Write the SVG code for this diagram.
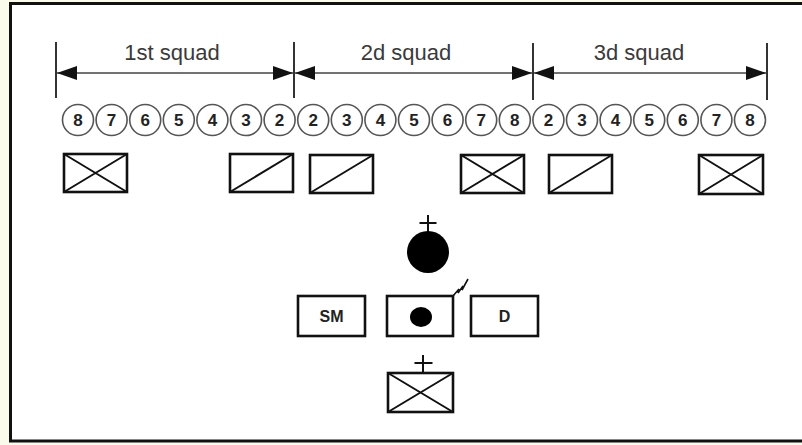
<svg xmlns="http://www.w3.org/2000/svg" width="802" height="445" viewBox="0 0 802 445">
<style>
.lbl{font-family:"Liberation Sans",Arial,sans-serif;font-size:22px;fill:#3a3a3a;text-anchor:middle}
.num{font-family:"Liberation Sans",Arial,sans-serif;font-size:17px;font-weight:bold;fill:#222;text-anchor:middle}
.sym{font-family:"Liberation Sans",Arial,sans-serif;font-size:16px;font-weight:bold;fill:#222;text-anchor:middle}
.dim{stroke:#444;stroke-width:1.5;fill:none}
.tick{stroke:#333;stroke-width:2;fill:none}
.sold{fill:none;stroke:#555;stroke-width:1.6}
.box{fill:#fff;stroke:#111;stroke-width:2.6}
.ln{stroke:#111;stroke-width:2;fill:none}
</style>
<defs>
<marker id="ah" viewBox="0 0 20 14" refX="20" refY="7" markerWidth="20" markerHeight="14" markerUnits="userSpaceOnUse" orient="auto-start-reverse">
<path d="M0,0 L20,7 L0,14 Z" fill="#111"/>
</marker>
</defs>
<rect x="0" y="0" width="802" height="445" fill="#fafbea"/>
<rect x="10.5" y="3.5" width="800" height="437.5" fill="#fff" stroke="#111" stroke-width="3"/>

<g id="dimensions">
<line class="tick" x1="56" y1="42" x2="56" y2="98"/>
<line class="tick" x1="294" y1="42" x2="294" y2="98"/>
<line class="tick" x1="533" y1="43" x2="533" y2="100"/>
<line class="tick" x1="767" y1="43" x2="767" y2="100"/>
<line class="dim" x1="57" y1="73" x2="293" y2="73" marker-start="url(#ah)" marker-end="url(#ah)"/>
<line class="dim" x1="295" y1="73" x2="532" y2="73" marker-start="url(#ah)" marker-end="url(#ah)"/>
<line class="dim" x1="534" y1="73" x2="766" y2="73" marker-start="url(#ah)" marker-end="url(#ah)"/>
<text class="lbl" x="172" y="60">1st squad</text>
<text class="lbl" x="406" y="60">2d squad</text>
<text class="lbl" x="639" y="60">3d squad</text>
</g>

<g id="soldiers">
<circle class="sold" cx="78" cy="120" r="15.5"/><text class="num" x="78" y="126">8</text>
<circle class="sold" cx="111.6" cy="120" r="15.5"/><text class="num" x="111.6" y="126">7</text>
<circle class="sold" cx="145.2" cy="120" r="15.5"/><text class="num" x="145.2" y="126">6</text>
<circle class="sold" cx="178.8" cy="120" r="15.5"/><text class="num" x="178.8" y="126">5</text>
<circle class="sold" cx="212.4" cy="120" r="15.5"/><text class="num" x="212.4" y="126">4</text>
<circle class="sold" cx="246" cy="120" r="15.5"/><text class="num" x="246" y="126">3</text>
<circle class="sold" cx="279.6" cy="120" r="15.5"/><text class="num" x="279.6" y="126">2</text>
<circle class="sold" cx="313.2" cy="120" r="15.5"/><text class="num" x="313.2" y="126">2</text>
<circle class="sold" cx="346.8" cy="120" r="15.5"/><text class="num" x="346.8" y="126">3</text>
<circle class="sold" cx="380.4" cy="120" r="15.5"/><text class="num" x="380.4" y="126">4</text>
<circle class="sold" cx="414" cy="120" r="15.5"/><text class="num" x="414" y="126">5</text>
<circle class="sold" cx="447.6" cy="120" r="15.5"/><text class="num" x="447.6" y="126">6</text>
<circle class="sold" cx="481.2" cy="120" r="15.5"/><text class="num" x="481.2" y="126">7</text>
<circle class="sold" cx="514.8" cy="120" r="15.5"/><text class="num" x="514.8" y="126">8</text>
<circle class="sold" cx="548.4" cy="120" r="15.5"/><text class="num" x="548.4" y="126">2</text>
<circle class="sold" cx="582" cy="120" r="15.5"/><text class="num" x="582" y="126">3</text>
<circle class="sold" cx="615.6" cy="120" r="15.5"/><text class="num" x="615.6" y="126">4</text>
<circle class="sold" cx="649.2" cy="120" r="15.5"/><text class="num" x="649.2" y="126">5</text>
<circle class="sold" cx="682.8" cy="120" r="15.5"/><text class="num" x="682.8" y="126">6</text>
<circle class="sold" cx="716.4" cy="120" r="15.5"/><text class="num" x="716.4" y="126">7</text>
<circle class="sold" cx="750" cy="120" r="15.5"/><text class="num" x="750" y="126">8</text>
</g>

<g id="sq1-mg">
<rect class="box" x="64" y="154" width="63" height="38"/>
<path class="ln" d="M64,154 L127,192 M64,192 L127,154"/>
</g>
<g id="sq1-ar">
<rect class="box" x="230" y="154" width="63" height="38"/>
<path class="ln" d="M230,192 L293,154"/>
</g>
<g id="sq2-ar">
<rect class="box" x="310" y="155" width="63" height="38"/>
<path class="ln" d="M310,193 L373,155"/>
</g>
<g id="sq2-mg">
<rect class="box" x="461" y="155" width="63" height="38"/>
<path class="ln" d="M461,155 L524,193 M461,193 L524,155"/>
</g>
<g id="sq3-ar">
<rect class="box" x="549" y="155" width="63" height="38"/>
<path class="ln" d="M549,193 L612,155"/>
</g>
<g id="sq3-mg">
<rect class="box" x="699" y="155" width="64" height="39"/>
<path class="ln" d="M699,155 L763,194 M699,194 L763,155"/>
</g>

<g id="leader">
<path class="ln" d="M428,215 L428,232 M419.5,223 L436.5,223"/>
<circle cx="428" cy="252" r="21" fill="#000"/>
</g>

<g id="sm">
<rect class="box" x="298" y="296" width="67" height="40"/>
<text class="sym" x="331.5" y="322">SM</text>
</g>
<g id="radio">
<rect class="box" x="387" y="296" width="66" height="40"/>
<ellipse cx="421" cy="317" rx="11" ry="10" fill="#000"/>
<path d="M453,296 L459,289 L458,293 L463,286 L462,290 L468,279" fill="none" stroke="#111" stroke-width="1.6"/>
</g>
<g id="d">
<rect class="box" x="471" y="296" width="67" height="40"/>
<text class="sym" x="504.5" y="322">D</text>
</g>
<g id="medic">
<path class="ln" d="M423,355 L423,373 M414.5,363 L432.5,363"/>
<rect class="box" x="388" y="373" width="65" height="39"/>
<path class="ln" d="M388,373 L453,412 M388,412 L453,373"/>
</g>
</svg>
